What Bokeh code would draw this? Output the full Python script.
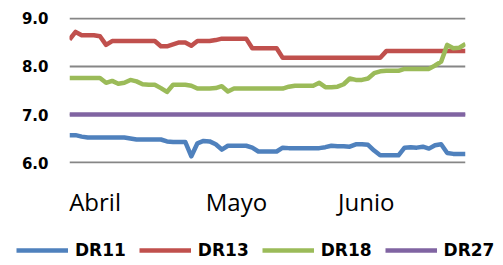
from bokeh.plotting import figure
from bokeh.layouts import column
from bokeh.models import Range1d, FixedTicker, Legend, LegendItem, NumeralTickFormatter
from bokeh.embed import file_html
from bokeh.resources import INLINE

dr11 = [6.57, 6.57, 6.54, 6.52, 6.52, 6.52, 6.52, 6.52, 6.52, 6.52,
        6.50, 6.48, 6.48, 6.48, 6.48, 6.48, 6.44, 6.43, 6.43, 6.43,
        6.13, 6.40, 6.45, 6.44, 6.38, 6.27, 6.35, 6.35, 6.35, 6.35,
        6.31, 6.23, 6.23, 6.23, 6.23, 6.31, 6.30, 6.30, 6.30, 6.30,
        6.30, 6.30, 6.32, 6.35, 6.34, 6.34, 6.33, 6.38, 6.38, 6.37,
        6.25, 6.15, 6.15, 6.15, 6.15, 6.31, 6.32, 6.31, 6.33, 6.29,
        6.36, 6.38, 6.20, 6.18, 6.18, 6.18]
dr13 = [8.56, 8.72, 8.65, 8.65, 8.65, 8.63, 8.45, 8.53, 8.53, 8.53,
        8.53, 8.53, 8.53, 8.53, 8.53, 8.42, 8.42, 8.46, 8.50, 8.50,
        8.43, 8.53, 8.53, 8.53, 8.55, 8.58, 8.58, 8.58, 8.58, 8.58,
        8.38, 8.38, 8.38, 8.38, 8.38, 8.18, 8.18, 8.18, 8.18, 8.18,
        8.18, 8.18, 8.18, 8.18, 8.18, 8.18, 8.18, 8.18, 8.18, 8.18,
        8.18, 8.18, 8.32, 8.32, 8.32, 8.32, 8.32, 8.32, 8.32, 8.32,
        8.32, 8.32, 8.32, 8.32, 8.32, 8.32]
dr18 = [7.76, 7.76, 7.76, 7.76, 7.76, 7.76, 7.66, 7.70, 7.64, 7.66,
        7.72, 7.69, 7.63, 7.62, 7.62, 7.55, 7.47, 7.62, 7.62, 7.62,
        7.60, 7.54, 7.54, 7.54, 7.55, 7.59, 7.48, 7.54, 7.54, 7.54,
        7.54, 7.54, 7.54, 7.54, 7.54, 7.54, 7.58, 7.60, 7.60, 7.60,
        7.60, 7.66, 7.57, 7.57, 7.58, 7.63, 7.75, 7.72, 7.72, 7.75,
        7.86, 7.90, 7.91, 7.91, 7.91, 7.95, 7.95, 7.95, 7.95, 7.95,
        8.02, 8.10, 8.45, 8.38, 8.39, 8.47]
dr27 = [7.0] * 66
days = list(range(len(dr11)))

series_names = ["DR11", "DR13", "DR18", "DR27"]
series_values = [dr11, dr13, dr18, dr27]
colors = ["#4F81BD", "#C0504D", "#9BBB59", "#8064A2"]

month_labels = ["Abril", "Mayo", "Junio"]
month_pos = [4.2, 27.4, 48.7]
y_ticks = [6, 7, 8, 9]

p = figure(width=503, height=228, output_backend="svg", toolbar_location=None,
           x_range=Range1d(0, 65), y_range=Range1d(5.98, 9.02),
           min_border_left=69, min_border_right=38, min_border_top=17, min_border_bottom=65)
p.frame_align = False
p.outline_line_color = None
p.background_fill_color = "white"
p.xgrid.grid_line_color = None
p.ygrid.grid_line_color = "#868686"
p.ygrid.grid_line_width = 2
p.ygrid.ticker = FixedTicker(ticks=y_ticks)

p.yaxis.ticker = FixedTicker(ticks=y_ticks)
p.yaxis.formatter = NumeralTickFormatter(format="0.0")
p.yaxis.axis_line_color = None
p.yaxis.major_tick_line_color = None
p.yaxis.minor_tick_line_color = None
p.yaxis.major_tick_out = 0
p.yaxis.major_label_standoff = 21
p.yaxis.major_label_text_font = "DejaVu Sans"
p.yaxis.major_label_text_font_style = "bold"
p.yaxis.major_label_text_font_size = "15px"
p.yaxis.major_label_text_color = "black"

p.xaxis.ticker = FixedTicker(ticks=month_pos)
p.xaxis.major_label_overrides = {pos: lab for pos, lab in zip(month_pos, month_labels)}
p.xaxis.axis_line_color = None
p.xaxis.major_tick_line_color = None
p.xaxis.minor_tick_line_color = None
p.xaxis.major_label_standoff = 15
p.xaxis.major_label_text_font = "Open Sans"
p.xaxis.major_label_text_font_size = "24px"
p.xaxis.major_label_text_color = "black"

for vals, col in zip(series_values, colors):
    p.line(days, vals, line_color=col, line_width=4.5, line_join="round")

# legend strip below the chart
lg = figure(width=503, height=37, output_backend="svg", toolbar_location=None,
            x_axis_location=None, y_axis_location=None,
            x_range=Range1d(1000, 1001), y_range=Range1d(1000, 1001),
            min_border_left=0, min_border_right=0, min_border_top=0, min_border_bottom=0)
lg.frame_align = False
lg.grid.visible = False
lg.outline_line_color = None
items = []
for name, vals, col in zip(series_names, series_values, colors):
    r = lg.line(days, vals, line_color=col, line_width=4.5)
    items.append(LegendItem(label=name, renderers=[r]))
legend = Legend(items=items, orientation="horizontal", location=(16, 5),
                glyph_width=52, glyph_height=20, label_height=20, label_standoff=7,
                spacing=13, padding=0, margin=0,
                label_text_font="DejaVu Sans", label_text_font_style="bold",
                label_text_font_size="17px", label_text_color="black",
                border_line_color=None, background_fill_alpha=0)
lg.add_layout(legend, "center")

layout = column(p, lg, spacing=0)
open("out.html", "w").write(file_html(layout, INLINE))
